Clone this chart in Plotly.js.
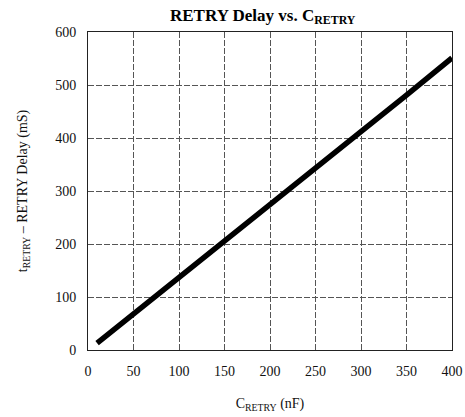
<!DOCTYPE html>
<html><head><meta charset="utf-8">
<script src="https://cdn.plot.ly/plotly-3.0.1.min.js"></script>
<style>html,body{margin:0;padding:0;background:#fff;}#chart{width:465px;height:417px;}</style>
</head><body><div id="chart"></div>
<script>
const capacitanceNF = [10, 50, 100, 150, 200, 250, 300, 350, 400];
const retryDelayMS = [13, 68, 135, 205, 272, 341, 410, 481, 551];
const xTicks = [0, 50, 100, 150, 200, 250, 300, 350, 400];
const yTicks = [0, 100, 200, 300, 400, 500, 600];

const font = {family: '"Liberation Serif", "Times New Roman", serif', color: '#111', size: 14};

Plotly.newPlot('chart', [{
  x: capacitanceNF, y: retryDelayMS, mode: 'lines', type: 'scatter',
  line: {color: '#000', width: 5.5}, hoverinfo: 'skip'
}], {
  width: 465, height: 417,
  margin: {l: 88, r: 13, t: 32, b: 67},
  paper_bgcolor: '#fff', plot_bgcolor: '#fff',
  font: font,
  showlegend: false,
  title: {text: '<b>RETRY Delay vs. C<sub>RETRY</sub></b>', font: {family: font.family, size: 17, color: '#000'}, x: 0.565, xanchor: 'center', y: 0.965, yanchor: 'middle'},
  xaxis: {
    range: [0, 400], tickvals: xTicks, ticktext: xTicks.map(String),
    showgrid: true, gridcolor: '#555', gridwidth: 1, griddash: '6px,2px',
    showline: true, linecolor: '#222', linewidth: 1, mirror: true,
    ticks: '', ticklabelstandoff: 8, zeroline: false,
    title: {text: 'C<sub>RETRY</sub> (nF)', font: {family: font.family, size: 14}, standoff: 20}
  },
  yaxis: {
    range: [0, 600], tickvals: yTicks, ticktext: yTicks.map(String),
    showgrid: true, gridcolor: '#555', gridwidth: 1, griddash: '6px,2px',
    showline: true, linecolor: '#222', linewidth: 1, mirror: true,
    ticks: '', ticklabelstandoff: 8, zeroline: false,
    title: {text: 't<sub>RETRY</sub> – RETRY Delay (mS)', font: {family: font.family, size: 14}, standoff: 24}
  }
}, {staticPlot: true});
</script></body></html>
